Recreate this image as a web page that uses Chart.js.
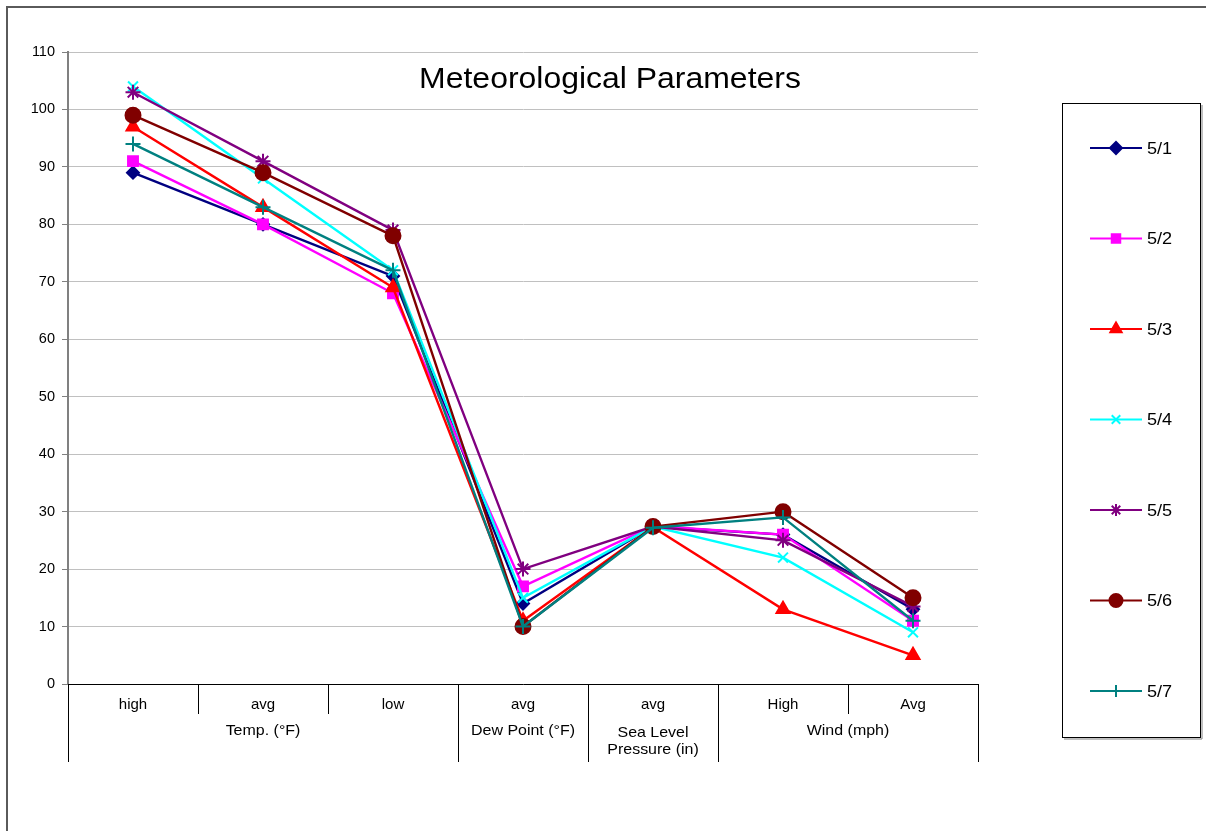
<!DOCTYPE html>
<html>
<head>
<meta charset="utf-8">
<script src="https://cdn.jsdelivr.net/npm/chart.js@4.4.1/dist/chart.umd.min.js"></script>
<style>
  html, body { margin: 0; padding: 0; background: #fff; overflow: hidden; }
  #frame {
    position: absolute; left: 6px; top: 6px; width: 1400px; height: 1000px;
    border: 2px solid #5a5a5a; box-sizing: border-box;
  }
  #wrap { position: absolute; left: 0; top: 0; width: 1206px; height: 831px; }
</style>
</head>
<body>
<div id="frame"></div>
<div id="wrap"><canvas id="myChart"></canvas></div>
<script>
// Category labels (first row of the x axis) and the groups under them
const categories = ['high', 'avg', 'low', 'avg', 'avg', 'High', 'Avg'];
const groupLabels = [['Temp. (°F)'], ['Dew Point (°F)'], ['Sea Level', 'Pressure (in)'], ['Wind (mph)']];
const groupStarts = [0, 3, 4, 5];
const groupEnds = [2, 3, 4, 6];

const yTicks = [0, 10, 20, 30, 40, 50, 60, 70, 80, 90, 100, 110];

// Series values, one per day
const seriesNames = ['5/1', '5/2', '5/3', '5/4', '5/5', '5/6', '5/7'];
const day1 = [89, 80, 71, 14, 27.4, 26, 13];
const day2 = [91, 80, 68, 17, 27.5, 26, 11];
const day3 = [97, 83, 69, 11, 27.3, 13, 5];
const day4 = [104, 88, 72, 15, 27.4, 22, 9];
const day5 = [103, 91, 79, 20, 27.4, 25, 13.5];
const day6 = [99, 89, 78, 10, 27.4, 30, 15];
const day7 = [94, 83, 72, 10, 27.2, 29, 11];
const seriesValues = [day1, day2, day3, day4, day5, day6, day7];

const colors = ['#000080', '#FF00FF', '#FF0000', '#00FFFF', '#800080', '#800000', '#008080'];
const markers = ['rectRot', 'rect', 'triangle', 'crossRot', 'star', 'circle', 'cross'];
const markerSizes = [6, 7, 7.5, 7, 7.5, 7.5, 7.5];
const legendSizes = [6, 6, 6.5, 6, 6, 6.5, 6];

const FONT = '"Liberation Sans", Arial, sans-serif';
const STRETCH = 1.065; // the original text is a little wider than Arial

function wideText(ctx, text, x, y) {
    ctx.save();
    ctx.translate(x, y);
    ctx.scale(STRETCH, 1);
    ctx.fillText(text, 0, 0);
    ctx.restore();
}

// Draws the two-level axis, the title and the legend box
const decorPlugin = {
    id: 'decor',
    afterDraw(chart) {
        const ctx = chart.ctx;
        const x = chart.scales.x;
        const area = chart.chartArea;
        const step = x.getPixelForValue(1) - x.getPixelForValue(0);
        const edge = i => x.getPixelForValue(i) - step / 2;
        const bottom = area.bottom;

        ctx.save();
        ctx.strokeStyle = '#000000';
        ctx.lineWidth = 1;
        const longEdges = [0, 3, 4, 5, 7];
        for (let i = 0; i <= categories.length; i++) {
            const px = Math.round(edge(i)) + 0.5;
            const end = longEdges.includes(i) ? bottom + 78 : bottom + 30;
            ctx.beginPath();
            ctx.moveTo(px, bottom);
            ctx.lineTo(px, end);
            ctx.stroke();
        }

        // Group labels
        ctx.fillStyle = '#000';
        ctx.font = '15px ' + FONT;
        ctx.textAlign = 'center';
        ctx.textBaseline = 'middle';
        groupLabels.forEach((lines, g) => {
            const cx = (edge(groupStarts[g]) + edge(groupEnds[g] + 1)) / 2;
            const y0 = lines.length > 1 ? bottom + 49 : bottom + 47;
            lines.forEach((t, k) => wideText(ctx, t, cx, y0 + k * 17));
        });

        // Title
        ctx.textBaseline = 'alphabetic';
        ctx.font = '30px ' + FONT;
        wideText(ctx, 'Meteorological Parameters', 610, 88);

        // Legend box
        ctx.strokeStyle = '#000';
        ctx.strokeRect(1062.5, 103.5, 138, 634);
        ctx.strokeStyle = '#808080';
        ctx.beginPath();
        ctx.moveTo(1202, 105);
        ctx.lineTo(1202, 739);
        ctx.lineTo(1064, 739);
        ctx.stroke();

        ctx.textAlign = 'left';
        ctx.textBaseline = 'middle';
        ctx.font = '17px ' + FONT;
        seriesNames.forEach((name, i) => {
            const ly = 148 + i * 90.5;
            ctx.strokeStyle = colors[i];
            ctx.fillStyle = colors[i];
            ctx.lineWidth = 2;
            ctx.beginPath();
            ctx.moveTo(1090, ly);
            ctx.lineTo(1142, ly);
            ctx.stroke();
            Chart.helpers.drawPoint(ctx, {
                pointStyle: markers[i], radius: legendSizes[i], borderWidth: 2, rotation: 0
            }, 1116, ly);
            ctx.fillStyle = '#000';
            wideText(ctx, name, 1147, ly + 1);
        });
        ctx.restore();
    }
};

function createChart() {
    const ctx = document.getElementById('myChart').getContext('2d');

    new Chart(ctx, {
        type: 'line',
        data: {
            labels: categories,
            datasets: seriesValues.map((values, i) => ({
                label: seriesNames[i],
                data: values,
                borderColor: colors[i],
                backgroundColor: colors[i],
                borderWidth: 2.4,
                tension: 0,
                pointStyle: markers[i],
                pointRadius: markerSizes[i],
                pointBackgroundColor: colors[i],
                pointBorderColor: colors[i],
                pointBorderWidth: 2,
                order: seriesValues.length - i
            }))
        },
        options: {
            responsive: true,
            maintainAspectRatio: false,
            animation: false,
            layout: {
                padding: { top: 52, right: 228, bottom: 0, left: 0 }
            },
            plugins: {
                legend: { display: false },
                tooltip: { enabled: false },
                title: { display: false }
            },
            scales: {
                x: {
                    type: 'category',
                    offset: true,
                    grid: { display: false },
                    border: { color: '#000', width: 1 },
                    ticks: {
                        color: '#000',
                        font: { family: FONT, size: 15 },
                        padding: 4,
                        maxRotation: 0,
                        autoSkip: false
                    },
                    afterFit: s => { s.height = 147; }
                },
                y: {
                    min: 0,
                    max: 110,
                    afterBuildTicks: s => { s.ticks = yTicks.map(v => ({ value: v })); },
                    grid: {
                        color: '#c0c0c0',
                        lineWidth: 1,
                        tickLength: 6,
                        tickColor: '#808080'
                    },
                    border: { color: '#808080', width: 2 },
                    ticks: {
                        color: '#000',
                        font: { family: FONT, size: 14.5 },
                        padding: 7
                    },
                    afterFit: s => { s.width = 68; }
                }
            }
        },
        plugins: [decorPlugin]
    });
}

createChart();
</script>
</body>
</html>
